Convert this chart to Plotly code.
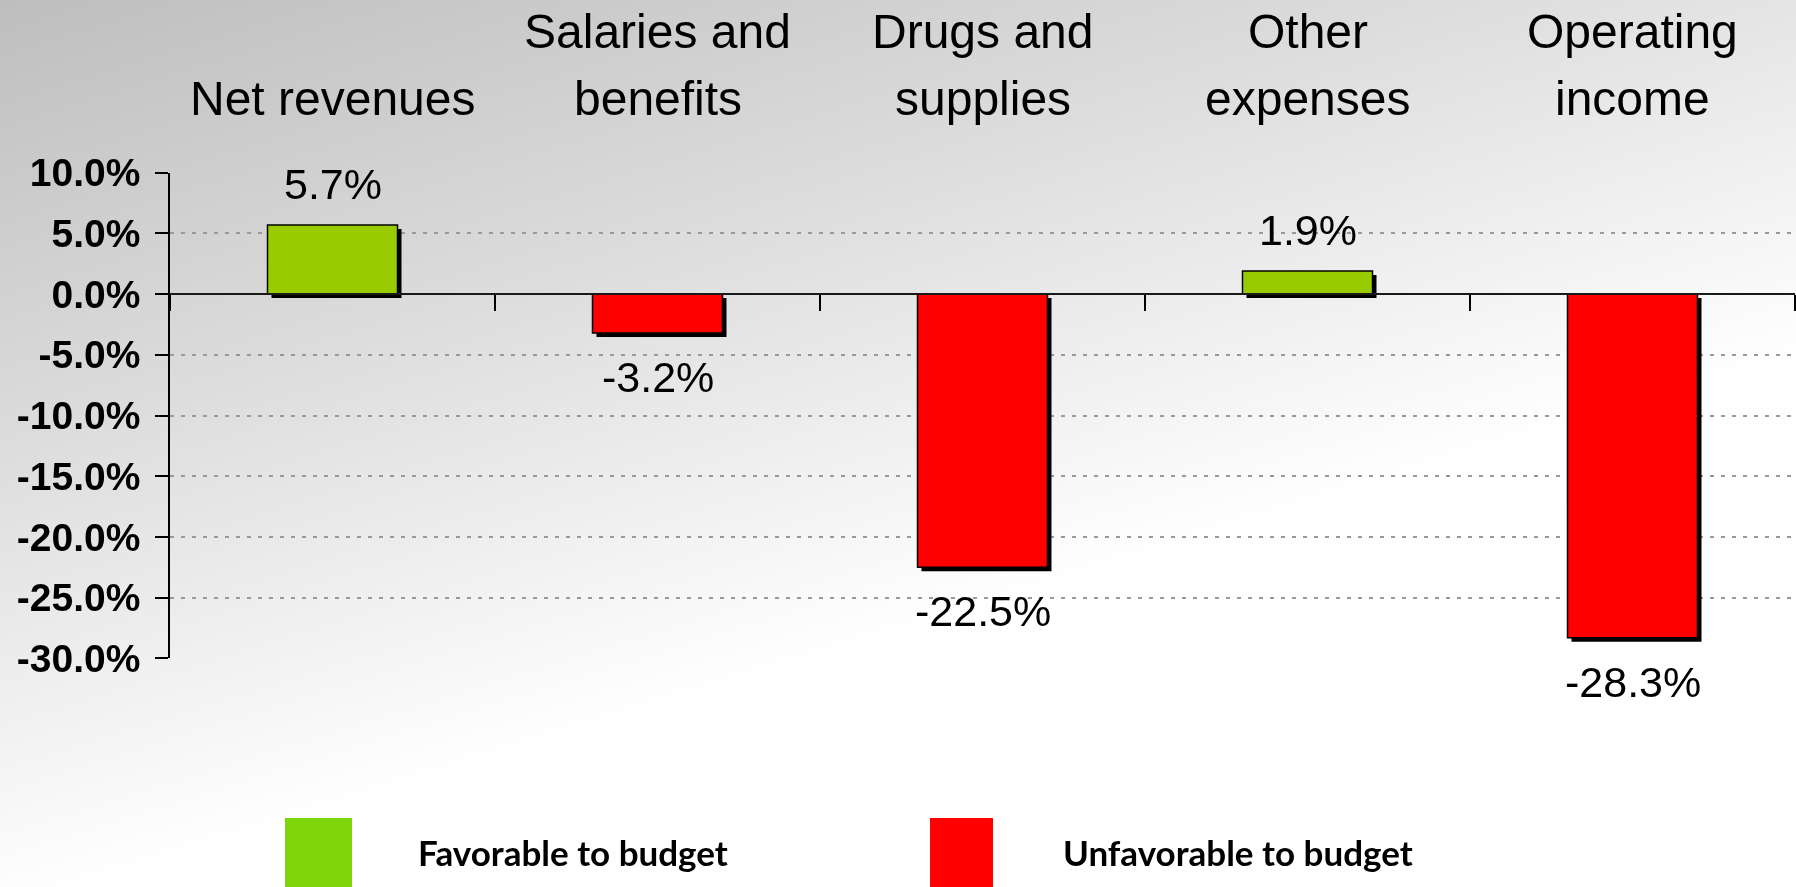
import base64
import plotly.graph_objects as go

# ---------------- data ----------------
categories = ["Net revenues", "Salaries and<br>benefits", "Drugs and<br>supplies",
              "Other<br>expenses", "Operating<br>income"]
variance_pct = [5.7, -3.2, -22.5, 1.9, -28.3]
ytick_vals = [10, 5, 0, -5, -10, -15, -20, -25, -30]
ytick_text = ["10.0%", "5.0%", "0.0%", "-5.0%", "-10.0%", "-15.0%", "-20.0%", "-25.0%", "-30.0%"]
legend_labels = ["Favorable to budget", "Unfavorable to budget"]

# ---------------- style / layout ----------------
W, H = 1796, 887
FAV_BAR, UNFAV_BAR = "#99cc00", "#ff0000"
FAV_KEY, UNFAV_KEY = "#7ed60a", "#ff0000"
FONT = "Liberation Sans, Arial, sans-serif"
Y_RANGE = [-30, 10]
Y_TOP_PX, Y_BOT_PX = 172.7, 658.3
X_LEFT_PX, X_RIGHT_PX = 170, 1795
Y_DOMAIN = [1 - Y_BOT_PX / H, 1 - Y_TOP_PX / H]
X_DOMAIN = [X_LEFT_PX / W, X_RIGHT_PX / W]
PX_PER_UNIT = (Y_BOT_PX - Y_TOP_PX) / (Y_RANGE[1] - Y_RANGE[0])
PX_PER_CAT = (X_RIGHT_PX - X_LEFT_PX) / len(categories)
SHADOW_PX = 4
SHADOW_DX = SHADOW_PX / PX_PER_CAT
SHADOW_DY = SHADOW_PX / PX_PER_UNIT
BAR_W = 0.4
zero_frac = Y_DOMAIN[0] + (0 - Y_RANGE[0]) / (Y_RANGE[1] - Y_RANGE[0]) * (Y_DOMAIN[1] - Y_DOMAIN[0])

bar_colors = [FAV_BAR if v > 0 else UNFAV_BAR for v in variance_pct]

fig = go.Figure()
# drop shadow
fig.add_trace(go.Bar(x=categories, y=variance_pct, base=-SHADOW_DY, width=BAR_W,
                     offset=-BAR_W / 2 + SHADOW_DX,
                     marker=dict(color="black", line=dict(width=0)),
                     hoverinfo="skip", showlegend=False))
# bars
fig.add_trace(go.Bar(x=categories, y=variance_pct, width=BAR_W, offset=-BAR_W / 2,
                     marker=dict(color=bar_colors, line=dict(color="black", width=1.5)),
                     showlegend=False))

annotations = []
# value labels
for c, v in zip(categories, variance_pct):
    annotations.append(dict(x=c, y=v, xref="x", yref="y", text=f"{v:.1f}%",
                            showarrow=False, yanchor="middle",
                            yshift=41 if v > 0 else -44,
                            font=dict(family=FONT, size=43, color="black")))
# category labels (top)
ROW1 = 1 - 31 / H
ROW2 = 1 - 99 / H
for c in categories:
    lines = c.split("<br>")
    rows = [ROW2] if len(lines) == 1 else [ROW1, ROW2]
    for line, yy in zip(lines, rows):
        annotations.append(dict(x=c, y=yy, xref="x", yref="paper", text=line,
                                showarrow=False, yanchor="middle",
                                font=dict(family=FONT, size=48, color="black")))

# legend (custom)
shapes = []
key_x = [(285, 352), (930, 993)]
text_x = [416, 1061]
for (x0, x1), tx, lab, col in zip(key_x, text_x, legend_labels, [FAV_KEY, UNFAV_KEY]):
    shapes.append(dict(type="rect", xref="paper", yref="paper",
                       x0=x0 / W, x1=x1 / W, y0=0, y1=1 - 818 / H,
                       fillcolor=col, line=dict(width=0), layer="above"))
    annotations.append(dict(x=tx / W, y=1 - 852 / H, xref="paper", yref="paper",
                            text=lab, showarrow=False, xanchor="left", yanchor="middle",
                            font=dict(family="Lato, sans-serif", size=35, color="black",
                                      weight="bold")))

# gradient background
svg = (f"<svg xmlns='http://www.w3.org/2000/svg' width='{W}' height='{H}' "
       f"viewBox='0 0 {W} {H}' preserveAspectRatio='none'>"
       "<defs><linearGradient id='g' gradientUnits='userSpaceOnUse' "
       "x1='0' y1='0' x2='259' y2='835'>"
       "<stop offset='0' stop-color='#bebebe'/>"
       "<stop offset='0.5' stop-color='#dddddd'/>"
       "<stop offset='1' stop-color='#ffffff'/>"
       "</linearGradient></defs>"
       f"<rect width='{W}' height='{H}' fill='url(#g)'/></svg>")
bg_src = "data:image/svg+xml;base64," + base64.b64encode(svg.encode()).decode()

fig.update_layout(
    template="none",
    width=W, height=H,
    margin=dict(l=0, r=0, t=0, b=0, pad=0, autoexpand=False),
    paper_bgcolor="rgba(0,0,0,0)", plot_bgcolor="rgba(0,0,0,0)",
    barmode="overlay",
    showlegend=False,
    annotations=annotations,
    shapes=shapes,
    images=[dict(source=bg_src, xref="paper", yref="paper", x=0, y=1,
                 sizex=1, sizey=1, xanchor="left", yanchor="top",
                 sizing="stretch", layer="below")],
    xaxis=dict(domain=X_DOMAIN, anchor="free", position=zero_frac,
               type="category", range=[-0.5, len(categories) - 0.5],
               showline=True, linecolor="#1a1a1a", linewidth=2,
               ticks="outside", tickson="boundaries", ticklen=16, tickwidth=2,
               tickcolor="black", showticklabels=False, showgrid=False,
               zeroline=False, fixedrange=True, automargin=False),
    yaxis=dict(domain=Y_DOMAIN, range=Y_RANGE, anchor="x",
               showline=True, linecolor="black", linewidth=1.5,
               ticks="outside", ticklen=13, tickwidth=1.5, tickcolor="black",
               tickvals=ytick_vals, ticktext=ytick_text,
               tickfont=dict(family=FONT, size=39, color="black", weight="bold"),
               ticklabelstandoff=7,
               showgrid=True, gridcolor="#999999", gridwidth=2, griddash="4px,7px",
               zeroline=False, fixedrange=True, automargin=False),
)

post = ("document.documentElement.style.margin='0';"
        "document.body.style.margin='0';"
        "document.body.style.overflow='hidden';"
        "var gd=document.getElementById('{plot_id}');"
        "gd.style.position='fixed';gd.style.left='0';gd.style.top='0';")

fig.write_html("out.html", config={"displayModeBar": False}, post_script=post)
